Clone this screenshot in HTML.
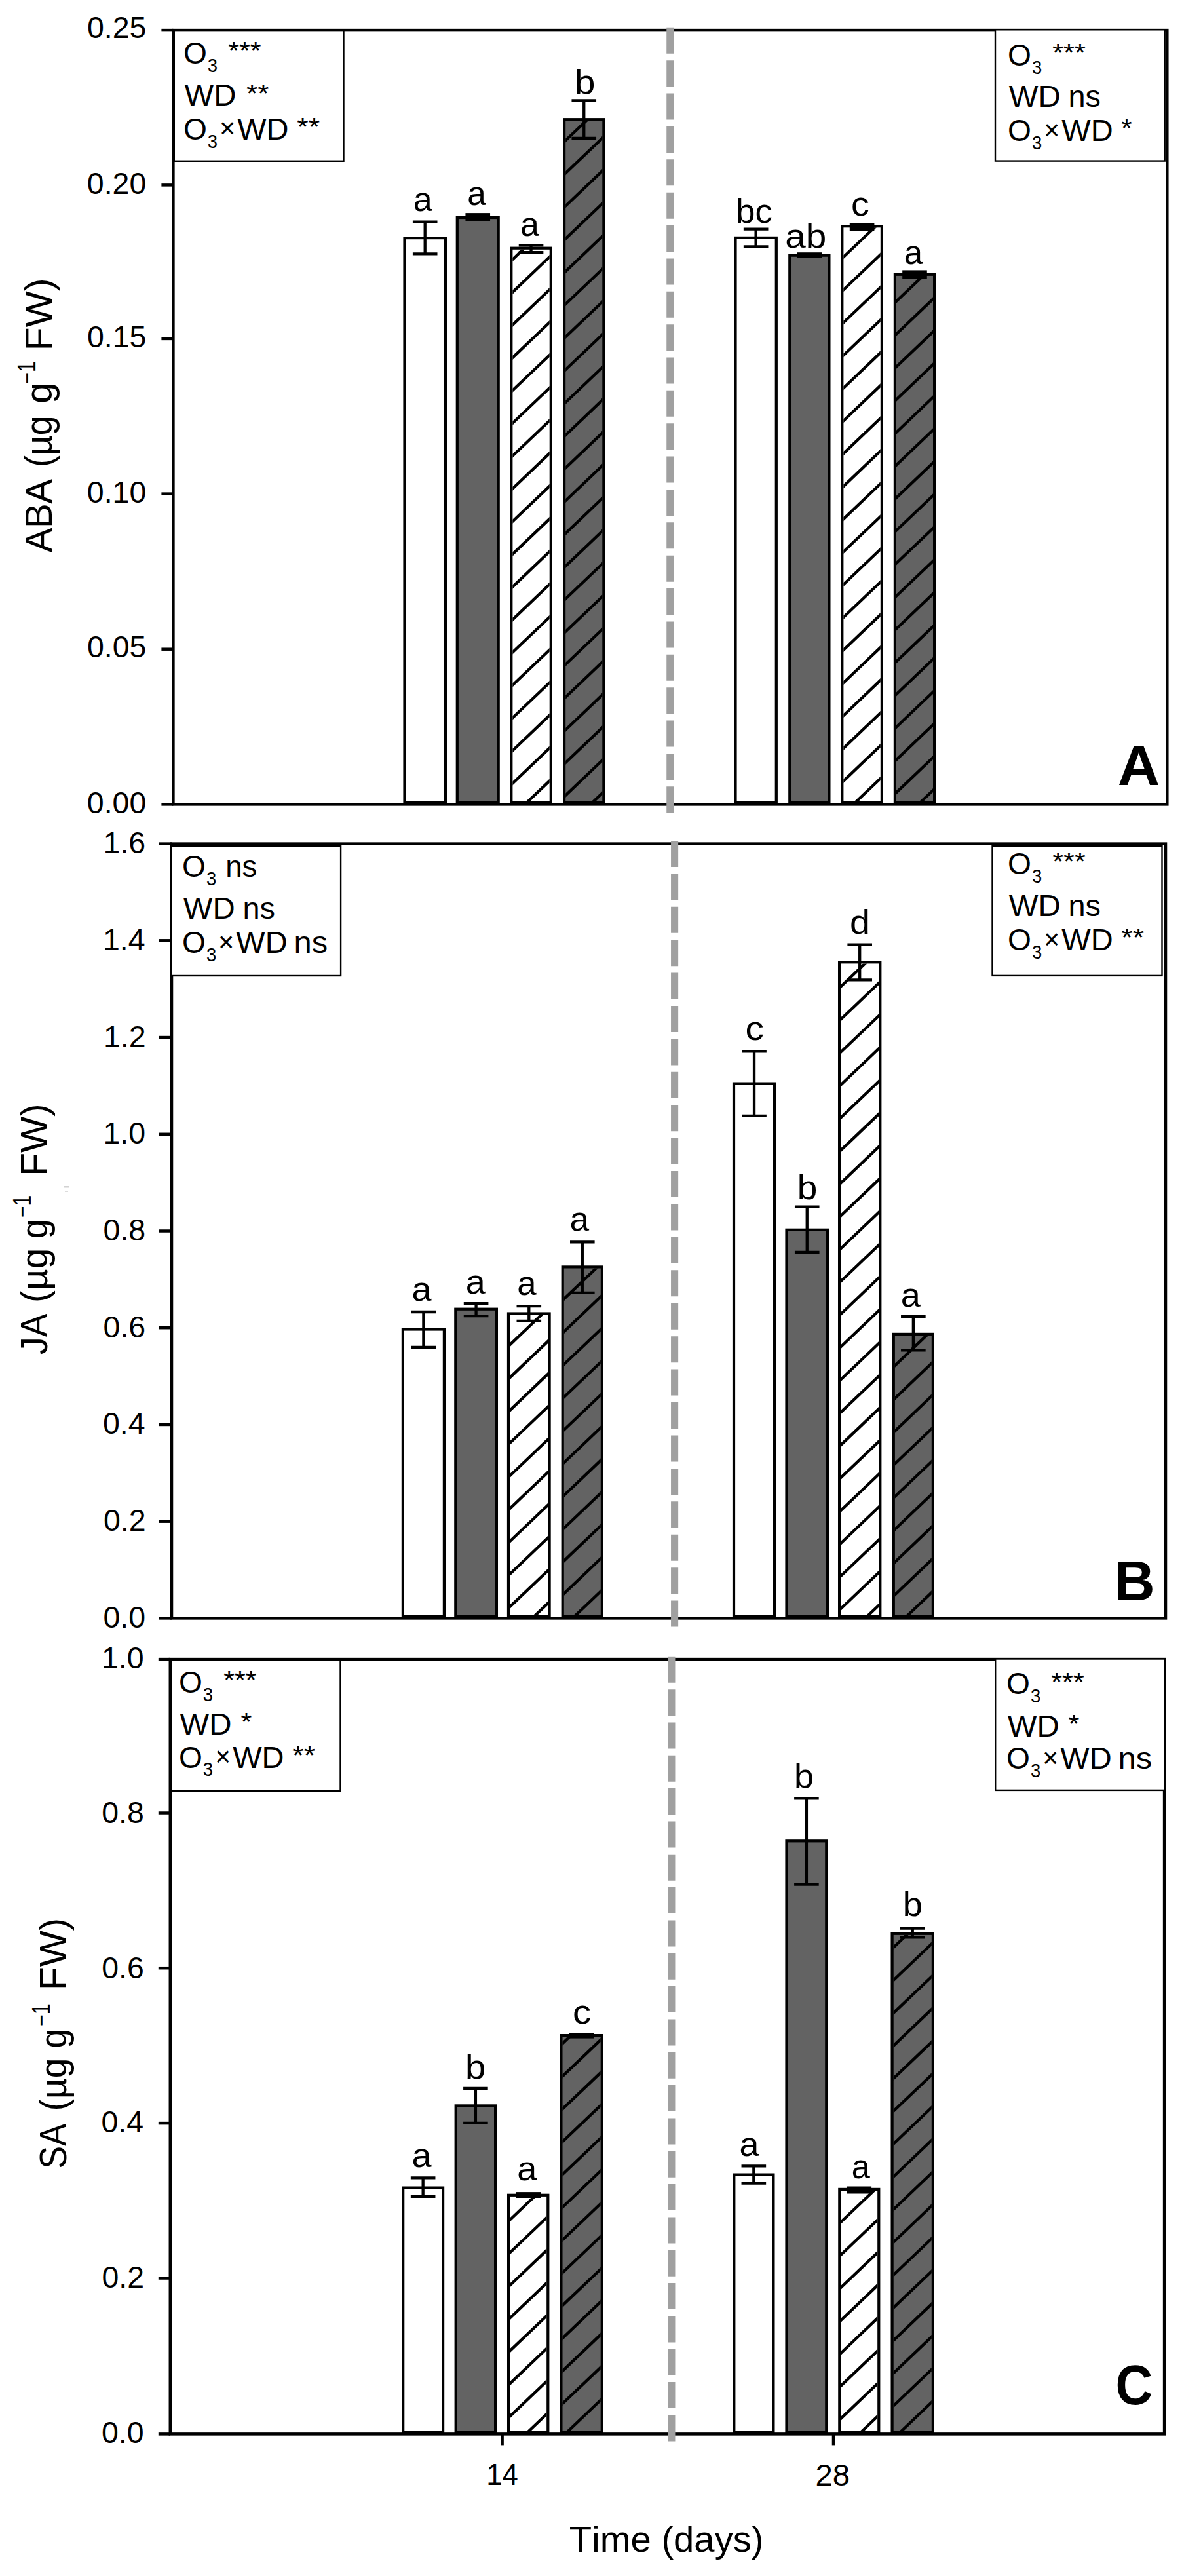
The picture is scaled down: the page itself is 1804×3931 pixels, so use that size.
<!DOCTYPE html>
<html lang="en"><head><meta charset="utf-8"><title>Phytohormones: ABA, JA, SA</title>
<style>html,body{margin:0;padding:0;background:#fff}svg{display:block}text{font-family:'Liberation Sans', Arial, sans-serif;fill:#000;font-kerning:none}.ax{stroke:#000;stroke-width:4.5;fill:none}.eb{stroke:#000;stroke-width:4.3;fill:none}.h{stroke:#000;stroke-width:4.4;fill:none}.lg{stroke:#000;stroke-width:2.4;fill:#fff}</style></head><body>
<svg width="1804" height="3931" viewBox="0 0 1804 3931">
<rect x="0" y="0" width="1804" height="3931" fill="#fff"/>
<g id="panel-A">
<rect class="lg" x="265.8" y="45.2" width="258.7" height="200.6"/>
<text><tspan font-size="46.5" textLength="35.89" lengthAdjust="spacingAndGlyphs" x="279.91" y="96.8">O</tspan><tspan font-size="28.8" textLength="15.25" lengthAdjust="spacingAndGlyphs" x="316.86" y="109.6">3</tspan><tspan> </tspan><tspan font-size="39" textLength="50.47" lengthAdjust="spacingAndGlyphs" x="348.2" y="91">***</tspan></text>
<text><tspan font-size="46.5" textLength="78.98" lengthAdjust="spacingAndGlyphs" x="281.59" y="161.3">WD</tspan><tspan> </tspan><tspan font-size="39" textLength="34.51" lengthAdjust="spacingAndGlyphs" x="375.99" y="155.5">**</tspan></text>
<text><tspan font-size="46.5" textLength="35.89" lengthAdjust="spacingAndGlyphs" x="279.91" y="212.8">O</tspan><tspan font-size="28.8" textLength="15.25" lengthAdjust="spacingAndGlyphs" x="316.86" y="225.6">3</tspan><tspan font-size="42" textLength="23.84" lengthAdjust="spacingAndGlyphs" x="335.27" y="210.4">×</tspan><tspan font-size="46.5" textLength="78.36" lengthAdjust="spacingAndGlyphs" x="362.19" y="212.8">WD</tspan><tspan> </tspan><tspan font-size="39" textLength="34.92" lengthAdjust="spacingAndGlyphs" x="453.18" y="207">**</tspan></text>
<rect x="617.5" y="363.1" width="62.4" height="861.8" fill="#fff" stroke="#000" stroke-width="4.2"/>
<rect x="697.8" y="332" width="62.9" height="892.9" fill="#636363" stroke="#000" stroke-width="4.2"/>
<rect x="780.3" y="378.7" width="60.5" height="846.2" fill="#fff" stroke="#000" stroke-width="4.2"/>
<clipPath id="c1"><rect x="782.4" y="380.8" width="56.3" height="842"/></clipPath>
<path class="h" clip-path="url(#c1)" d="M777.4 400.56L843.7 337.38M777.4 450.53L843.7 387.35M777.4 500.5L843.7 437.32M777.4 550.48L843.7 487.29M777.4 600.45L843.7 537.26M777.4 650.41L843.7 587.23M777.4 700.38L843.7 637.2M777.4 750.35L843.7 687.17M777.4 800.32L843.7 737.14M777.4 850.29L843.7 787.11M777.4 900.26L843.7 837.08M777.4 950.24L843.7 887.05M777.4 1000.21L843.7 937.02M777.4 1050.18L843.7 986.99M777.4 1100.14L843.7 1036.96M777.4 1150.12L843.7 1086.93M777.4 1200.09L843.7 1136.9M777.4 1250.06L843.7 1186.87M777.4 1300.03L843.7 1236.84"/>
<rect x="861.1" y="182.2" width="60.3" height="1042.7" fill="#636363" stroke="#000" stroke-width="4.2"/>
<clipPath id="c2"><rect x="863.2" y="184.3" width="56.1" height="1038.5"/></clipPath>
<path class="h" clip-path="url(#c2)" d="M858.2 169.09L924.3 106.1M858.2 219.06L924.3 156.07M858.2 269.03L924.3 206.04M858.2 319L924.3 256.01M858.2 368.98L924.3 305.98M858.2 418.94L924.3 355.95M858.2 468.91L924.3 405.92M858.2 518.88L924.3 455.89M858.2 568.85L924.3 505.86M858.2 618.82L924.3 555.83M858.2 668.79L924.3 605.8M858.2 718.76L924.3 655.77M858.2 768.74L924.3 705.74M858.2 818.71L924.3 755.71M858.2 868.68L924.3 805.68M858.2 918.64L924.3 855.65M858.2 968.61L924.3 905.62M858.2 1018.58L924.3 955.59M858.2 1068.56L924.3 1005.56M858.2 1118.53L924.3 1055.53M858.2 1168.5L924.3 1105.5M858.2 1218.47L924.3 1155.47M858.2 1268.43L924.3 1205.44"/>
<rect x="1122.5" y="362.9" width="62.3" height="862" fill="#fff" stroke="#000" stroke-width="4.2"/>
<rect x="1205.3" y="389.7" width="60.1" height="835.2" fill="#636363" stroke="#000" stroke-width="4.2"/>
<rect x="1285.3" y="345.2" width="60.6" height="879.7" fill="#fff" stroke="#000" stroke-width="4.2"/>
<clipPath id="c3"><rect x="1287.4" y="347.3" width="56.4" height="875.5"/></clipPath>
<path class="h" clip-path="url(#c3)" d="M1282.4 347L1348.8 283.72M1282.4 396.96L1348.8 333.69M1282.4 446.93L1348.8 383.66M1282.4 496.9L1348.8 433.63M1282.4 546.88L1348.8 483.6M1282.4 596.84L1348.8 533.57M1282.4 646.81L1348.8 583.54M1282.4 696.78L1348.8 633.51M1282.4 746.75L1348.8 683.48M1282.4 796.73L1348.8 733.45M1282.4 846.7L1348.8 783.42M1282.4 896.66L1348.8 833.39M1282.4 946.63L1348.8 883.36M1282.4 996.6L1348.8 933.33M1282.4 1046.58L1348.8 983.3M1282.4 1096.55L1348.8 1033.27M1282.4 1146.52L1348.8 1083.24M1282.4 1196.49L1348.8 1133.21M1282.4 1246.46L1348.8 1183.18M1282.4 1296.43L1348.8 1233.15"/>
<rect x="1365.9" y="418.8" width="60.2" height="806.1" fill="#636363" stroke="#000" stroke-width="4.2"/>
<clipPath id="c4"><rect x="1368" y="420.9" width="56" height="801.9"/></clipPath>
<path class="h" clip-path="url(#c4)" d="M1363 414.6L1429 351.7M1363 464.56L1429 401.67M1363 514.53L1429 451.64M1363 564.5L1429 501.61M1363 614.48L1429 551.58M1363 664.45L1429 601.55M1363 714.41L1429 651.52M1363 764.38L1429 701.49M1363 814.35L1429 751.46M1363 864.32L1429 801.43M1363 914.29L1429 851.4M1363 964.26L1429 901.37M1363 1014.24L1429 951.34M1363 1064.21L1429 1001.31M1363 1114.18L1429 1051.28M1363 1164.14L1429 1101.25M1363 1214.12L1429 1151.22M1363 1264.09L1429 1201.19"/>
<rect class="ax" x="264.4" y="46.1" width="1516.9" height="1181.3"/>
<line class="ax" x1="246.4" y1="1227.4" x2="264.4" y2="1227.4"/>
<text font-size="46.5" textLength="90.5" lengthAdjust="spacingAndGlyphs" x="132.81" y="1240.9">0.00</text>
<line class="ax" x1="246.4" y1="990.7" x2="264.4" y2="990.7"/>
<text font-size="46.5" textLength="90.5" lengthAdjust="spacingAndGlyphs" x="132.95" y="1002.7">0.05</text>
<line class="ax" x1="246.4" y1="753.6" x2="264.4" y2="753.6"/>
<text font-size="46.5" textLength="90.5" lengthAdjust="spacingAndGlyphs" x="132.81" y="767.1">0.10</text>
<line class="ax" x1="246.4" y1="516.9" x2="264.4" y2="516.9"/>
<text font-size="46.5" textLength="90.5" lengthAdjust="spacingAndGlyphs" x="132.95" y="530.4">0.15</text>
<line class="ax" x1="246.4" y1="282.4" x2="264.4" y2="282.4"/>
<text font-size="46.5" textLength="90.5" lengthAdjust="spacingAndGlyphs" x="132.81" y="295.9">0.20</text>
<line class="ax" x1="246.4" y1="46.1" x2="264.4" y2="46.1"/>
<text font-size="46.5" textLength="90.5" lengthAdjust="spacingAndGlyphs" x="132.95" y="58.4">0.25</text>
<path class="eb" d="M629.9 338.7H667.5M629.9 387.3H667.5M648.7 338.7V387.3"/>
<text font-size="52" textLength="29.02" lengthAdjust="spacingAndGlyphs" x="630.78" y="321.7">a</text>
<rect x="710.45" y="325.1" width="37.6" height="12.5" fill="#000"/>
<text font-size="52" textLength="28.58" lengthAdjust="spacingAndGlyphs" x="713.32" y="313.2">a</text>
<path class="eb" d="M791.75 374.4H829.35M791.75 385.2H829.35M810.55 374.4V385.2"/>
<text font-size="52" textLength="28.91" lengthAdjust="spacingAndGlyphs" x="793.99" y="360.2">a</text>
<path class="eb" d="M872.45 153.3H910.05M872.45 210.9H910.05M891.25 153.3V210.9"/>
<text font-size="52" textLength="31.41" lengthAdjust="spacingAndGlyphs" x="876.96" y="143.3">b</text>
<path class="eb" d="M1134.85 349.7H1172.45M1134.85 376.3H1172.45M1153.65 349.7V376.3"/>
<text font-size="52" textLength="55.91" lengthAdjust="spacingAndGlyphs" x="1123.09" y="339.8">bc</text>
<rect x="1216.55" y="385.2" width="37.6" height="8.4" fill="#000"/>
<text font-size="52" textLength="63.09" lengthAdjust="spacingAndGlyphs" x="1198.19" y="378">ab</text>
<rect x="1296.8" y="340.9" width="37.6" height="11.1" fill="#000"/>
<text font-size="52" textLength="27.83" lengthAdjust="spacingAndGlyphs" x="1299.04" y="328.8">c</text>
<rect x="1377.2" y="412.4" width="37.6" height="12.9" fill="#000"/>
<text font-size="52" textLength="28.37" lengthAdjust="spacingAndGlyphs" x="1379.73" y="402.5">a</text>
<rect class="lg" x="1519" y="45.3" width="258.7" height="200.3"/>
<text><tspan font-size="46.5" textLength="35.89" lengthAdjust="spacingAndGlyphs" x="1538.01" y="100">O</tspan><tspan font-size="28.8" textLength="15.25" lengthAdjust="spacingAndGlyphs" x="1574.96" y="112.8">3</tspan><tspan> </tspan><tspan font-size="39" textLength="50.47" lengthAdjust="spacingAndGlyphs" x="1606.3" y="94.2">***</tspan></text>
<text><tspan font-size="46.5" textLength="78.98" lengthAdjust="spacingAndGlyphs" x="1539.69" y="162.9">WD</tspan><tspan> </tspan><tspan font-size="46.5" textLength="49.51" lengthAdjust="spacingAndGlyphs" x="1630.49" y="162.9">ns</tspan></text>
<text><tspan font-size="46.5" textLength="35.89" lengthAdjust="spacingAndGlyphs" x="1538.01" y="215.2">O</tspan><tspan font-size="28.8" textLength="15.25" lengthAdjust="spacingAndGlyphs" x="1574.96" y="228">3</tspan><tspan font-size="42" textLength="23.84" lengthAdjust="spacingAndGlyphs" x="1593.37" y="212.8">×</tspan><tspan font-size="46.5" textLength="78.36" lengthAdjust="spacingAndGlyphs" x="1620.29" y="215.2">WD</tspan><tspan> </tspan><tspan font-size="39" textLength="16.44" lengthAdjust="spacingAndGlyphs" x="1711.32" y="209.4">*</tspan></text>
<text font-size="86" textLength="64.48" lengthAdjust="spacingAndGlyphs" font-weight="bold" x="1705.68" y="1197.8">A</text>
<text transform="rotate(-90)"><tspan font-size="57" textLength="112.02" lengthAdjust="spacingAndGlyphs" x="-843.11" y="78.7">ABA</tspan><tspan> </tspan><tspan font-size="57" textLength="78.47" lengthAdjust="spacingAndGlyphs" x="-713.02" y="78.7">(µg</tspan><tspan> </tspan><tspan font-size="57" textLength="32.28" lengthAdjust="spacingAndGlyphs" x="-615.84" y="78.7">g</tspan><tspan font-size="38" textLength="34.14" lengthAdjust="spacingAndGlyphs" x="-585.48" y="53.7">−1</tspan><tspan> </tspan><tspan font-size="57" textLength="110.97" lengthAdjust="spacingAndGlyphs" x="-535.32" y="78.7">FW)</tspan></text>
</g>
<g id="panel-B">
<rect x="614.9" y="2028.5" width="63" height="438.4" fill="#fff" stroke="#000" stroke-width="4.2"/>
<rect x="695.3" y="1997.7" width="62.6" height="469.2" fill="#636363" stroke="#000" stroke-width="4.2"/>
<rect x="776" y="2004.5" width="62.6" height="462.4" fill="#fff" stroke="#000" stroke-width="4.2"/>
<clipPath id="c5"><rect x="778.1" y="2006.6" width="58.4" height="458.2"/></clipPath>
<path class="h" clip-path="url(#c5)" d="M773.1 2007.1L841.5 1941.91M773.1 2057.07L841.5 1991.88M773.1 2107.03L841.5 2041.85M773.1 2157.01L841.5 2091.82M773.1 2206.97L841.5 2141.79M773.1 2256.95L841.5 2191.76M773.1 2306.91L841.5 2241.73M773.1 2356.89L841.5 2291.7M773.1 2406.86L841.5 2341.67M773.1 2456.83L841.5 2391.64M773.1 2506.8L841.5 2441.61"/>
<rect x="858.7" y="1933.4" width="60.2" height="533.5" fill="#636363" stroke="#000" stroke-width="4.2"/>
<clipPath id="c6"><rect x="860.8" y="1935.5" width="56" height="529.3"/></clipPath>
<path class="h" clip-path="url(#c6)" d="M855.8 1936.92L921.8 1874.03M855.8 1986.89L921.8 1924M855.8 2036.87L921.8 1973.97M855.8 2086.83L921.8 2023.94M855.8 2136.8L921.8 2073.91M855.8 2186.77L921.8 2123.88M855.8 2236.74L921.8 2173.85M855.8 2286.71L921.8 2223.82M855.8 2336.68L921.8 2273.79M855.8 2386.65L921.8 2323.76M855.8 2436.62L921.8 2373.73M855.8 2486.59L921.8 2423.7M855.8 2536.56L921.8 2473.67"/>
<rect x="1120" y="1653.6" width="62.1" height="813.3" fill="#fff" stroke="#000" stroke-width="4.2"/>
<rect x="1200.5" y="1876.8" width="62.5" height="590.1" fill="#636363" stroke="#000" stroke-width="4.2"/>
<rect x="1281.1" y="1468.3" width="62.2" height="998.6" fill="#fff" stroke="#000" stroke-width="4.2"/>
<clipPath id="c7"><rect x="1283.2" y="1470.4" width="58" height="994.4"/></clipPath>
<path class="h" clip-path="url(#c7)" d="M1278.2 1460.39L1346.2 1395.59M1278.2 1510.37L1346.2 1445.56M1278.2 1560.34L1346.2 1495.53M1278.2 1610.31L1346.2 1545.5M1278.2 1660.28L1346.2 1595.47M1278.2 1710.25L1346.2 1645.44M1278.2 1760.21L1346.2 1695.41M1278.2 1810.18L1346.2 1745.38M1278.2 1860.15L1346.2 1795.35M1278.2 1910.12L1346.2 1845.32M1278.2 1960.1L1346.2 1895.29M1278.2 2010.07L1346.2 1945.26M1278.2 2060.03L1346.2 1995.23M1278.2 2110L1346.2 2045.2M1278.2 2159.97L1346.2 2095.17M1278.2 2209.94L1346.2 2145.14M1278.2 2259.91L1346.2 2195.11M1278.2 2309.88L1346.2 2245.08M1278.2 2359.86L1346.2 2295.05M1278.2 2409.82L1346.2 2345.02M1278.2 2459.79L1346.2 2394.99M1278.2 2509.76L1346.2 2444.96"/>
<rect x="1363.8" y="2035.9" width="60.1" height="431" fill="#636363" stroke="#000" stroke-width="4.2"/>
<clipPath id="c8"><rect x="1365.9" y="2038" width="55.9" height="426.8"/></clipPath>
<path class="h" clip-path="url(#c8)" d="M1360.9 2038.6L1426.8 1975.79M1360.9 2088.57L1426.8 2025.76M1360.9 2138.53L1426.8 2075.73M1360.9 2188.51L1426.8 2125.7M1360.9 2238.47L1426.8 2175.67M1360.9 2288.45L1426.8 2225.64M1360.9 2338.41L1426.8 2275.61M1360.9 2388.39L1426.8 2325.58M1360.9 2438.36L1426.8 2375.55M1360.9 2488.33L1426.8 2425.52M1360.9 2538.3L1426.8 2475.49"/>
<rect class="ax" x="262" y="1287.6" width="1517" height="1181.8"/>
<line class="ax" x1="242.3" y1="2469.4" x2="262" y2="2469.4"/>
<text font-size="46.5" textLength="64.64" lengthAdjust="spacingAndGlyphs" x="157.38" y="2483.9">0.0</text>
<line class="ax" x1="242.3" y1="2321.68" x2="262" y2="2321.68"/>
<text font-size="46.5" textLength="64.64" lengthAdjust="spacingAndGlyphs" x="157.9" y="2336.18">0.2</text>
<line class="ax" x1="242.3" y1="2173.95" x2="262" y2="2173.95"/>
<text font-size="46.5" textLength="64.64" lengthAdjust="spacingAndGlyphs" x="156.92" y="2188.45">0.4</text>
<line class="ax" x1="242.3" y1="2026.22" x2="262" y2="2026.22"/>
<text font-size="46.5" textLength="64.64" lengthAdjust="spacingAndGlyphs" x="157.6" y="2040.72">0.6</text>
<line class="ax" x1="242.3" y1="1878.5" x2="262" y2="1878.5"/>
<text font-size="46.5" textLength="64.64" lengthAdjust="spacingAndGlyphs" x="157.58" y="1893">0.8</text>
<line class="ax" x1="242.3" y1="1730.78" x2="262" y2="1730.78"/>
<text font-size="46.5" textLength="64.64" lengthAdjust="spacingAndGlyphs" x="157.38" y="1745.28">1.0</text>
<line class="ax" x1="242.3" y1="1583.05" x2="262" y2="1583.05"/>
<text font-size="46.5" textLength="64.64" lengthAdjust="spacingAndGlyphs" x="157.9" y="1597.55">1.2</text>
<line class="ax" x1="242.3" y1="1435.32" x2="262" y2="1435.32"/>
<text font-size="46.5" textLength="64.64" lengthAdjust="spacingAndGlyphs" x="156.92" y="1449.82">1.4</text>
<line class="ax" x1="242.3" y1="1287.6" x2="262" y2="1287.6"/>
<text font-size="46.5" textLength="64.64" lengthAdjust="spacingAndGlyphs" x="157.6" y="1302.1">1.6</text>
<path class="eb" d="M627.6 2002H665.2M627.6 2055.8H665.2M646.4 2002V2055.8"/>
<text font-size="52" textLength="29.99" lengthAdjust="spacingAndGlyphs" x="628.51" y="1984.9">a</text>
<path class="eb" d="M707.8 1989.1H745.4M707.8 2008.1H745.4M726.6 1989.1V2008.1"/>
<text font-size="52" textLength="29.99" lengthAdjust="spacingAndGlyphs" x="710.71" y="1974.1">a</text>
<path class="eb" d="M788.5 1993.1H826.1M788.5 2015.9H826.1M807.3 1993.1V2015.9"/>
<text font-size="52" textLength="29.34" lengthAdjust="spacingAndGlyphs" x="789.26" y="1975.8">a</text>
<path class="eb" d="M870 1895.4H907.6M870 1972.8H907.6M888.8 1895.4V1972.8"/>
<text font-size="52" textLength="29.67" lengthAdjust="spacingAndGlyphs" x="869.43" y="1878.3">a</text>
<path class="eb" d="M1132.25 1604.4H1169.85M1132.25 1702.8H1169.85M1151.05 1604.4V1702.8"/>
<text font-size="52" textLength="28.53" lengthAdjust="spacingAndGlyphs" x="1137.58" y="1587.1">c</text>
<path class="eb" d="M1212.95 1841.6H1250.55M1212.95 1911H1250.55M1231.75 1841.6V1911"/>
<text font-size="52" textLength="30.55" lengthAdjust="spacingAndGlyphs" x="1216.86" y="1829.5">b</text>
<path class="eb" d="M1293.4 1441.6H1331M1293.4 1495.4H1331M1312.2 1441.6V1495.4"/>
<text font-size="52" textLength="30.92" lengthAdjust="spacingAndGlyphs" x="1296.97" y="1424.5">d</text>
<path class="eb" d="M1375.05 2008.9H1412.65M1375.05 2060.3H1412.65M1393.85 2008.9V2060.3"/>
<text font-size="52" textLength="30.1" lengthAdjust="spacingAndGlyphs" x="1374.8" y="1994.4">a</text>
<rect class="lg" x="261.4" y="1290.9" width="258.7" height="198.1"/>
<text><tspan font-size="46.5" textLength="35.89" lengthAdjust="spacingAndGlyphs" x="278.01" y="1338.2">O</tspan><tspan font-size="28.8" textLength="15.25" lengthAdjust="spacingAndGlyphs" x="314.96" y="1351">3</tspan><tspan> </tspan><tspan font-size="46.5" textLength="48.29" lengthAdjust="spacingAndGlyphs" x="344.16" y="1338.2">ns</tspan></text>
<text><tspan font-size="46.5" textLength="78.98" lengthAdjust="spacingAndGlyphs" x="279.69" y="1401.8">WD</tspan><tspan> </tspan><tspan font-size="46.5" textLength="49.51" lengthAdjust="spacingAndGlyphs" x="370.49" y="1401.8">ns</tspan></text>
<text><tspan font-size="46.5" textLength="35.89" lengthAdjust="spacingAndGlyphs" x="278.01" y="1454.4">O</tspan><tspan font-size="28.8" textLength="15.25" lengthAdjust="spacingAndGlyphs" x="314.96" y="1467.2">3</tspan><tspan font-size="42" textLength="23.84" lengthAdjust="spacingAndGlyphs" x="333.37" y="1452">×</tspan><tspan font-size="46.5" textLength="78.36" lengthAdjust="spacingAndGlyphs" x="360.29" y="1454.4">WD</tspan><tspan> </tspan><tspan font-size="46.5" textLength="51.72" lengthAdjust="spacingAndGlyphs" x="448.55" y="1454.4">ns</tspan></text>
<rect class="lg" x="1514.5" y="1291.1" width="259" height="197.8"/>
<text><tspan font-size="46.5" textLength="35.89" lengthAdjust="spacingAndGlyphs" x="1538.01" y="1334.1">O</tspan><tspan font-size="28.8" textLength="15.25" lengthAdjust="spacingAndGlyphs" x="1574.96" y="1346.9">3</tspan><tspan> </tspan><tspan font-size="39" textLength="50.47" lengthAdjust="spacingAndGlyphs" x="1606.3" y="1328.3">***</tspan></text>
<text><tspan font-size="46.5" textLength="78.98" lengthAdjust="spacingAndGlyphs" x="1539.69" y="1397.7">WD</tspan><tspan> </tspan><tspan font-size="46.5" textLength="49.51" lengthAdjust="spacingAndGlyphs" x="1630.49" y="1397.7">ns</tspan></text>
<text><tspan font-size="46.5" textLength="35.89" lengthAdjust="spacingAndGlyphs" x="1538.01" y="1450">O</tspan><tspan font-size="28.8" textLength="15.25" lengthAdjust="spacingAndGlyphs" x="1574.96" y="1462.8">3</tspan><tspan font-size="42" textLength="23.84" lengthAdjust="spacingAndGlyphs" x="1593.37" y="1447.6">×</tspan><tspan font-size="46.5" textLength="78.36" lengthAdjust="spacingAndGlyphs" x="1620.29" y="1450">WD</tspan><tspan> </tspan><tspan font-size="39" textLength="34.92" lengthAdjust="spacingAndGlyphs" x="1711.28" y="1444.2">**</tspan></text>
<text font-size="86" textLength="62.4" lengthAdjust="spacingAndGlyphs" font-weight="bold" x="1700.22" y="2441.9">B</text>
<text transform="rotate(-90)"><tspan font-size="57" textLength="62.85" lengthAdjust="spacingAndGlyphs" x="-2067.24" y="71.7">JA</tspan><tspan> </tspan><tspan font-size="57" textLength="83.07" lengthAdjust="spacingAndGlyphs" x="-1987.92" y="71.7">(µg</tspan><tspan> </tspan><tspan font-size="57" textLength="29.93" lengthAdjust="spacingAndGlyphs" x="-1890.36" y="71.7">g</tspan><tspan font-size="38" textLength="34.14" lengthAdjust="spacingAndGlyphs" x="-1858.08" y="46.7">−1</tspan><tspan> </tspan><tspan font-size="57" textLength="110.43" lengthAdjust="spacingAndGlyphs" x="-1794.8" y="71.7">FW)</tspan></text>
</g>
<g id="panel-C">
<rect class="lg" x="260.8" y="2532.9" width="258.7" height="200.3"/>
<text><tspan font-size="46.5" textLength="35.89" lengthAdjust="spacingAndGlyphs" x="272.91" y="2583">O</tspan><tspan font-size="28.8" textLength="15.25" lengthAdjust="spacingAndGlyphs" x="309.86" y="2595.8">3</tspan><tspan> </tspan><tspan font-size="39" textLength="50.47" lengthAdjust="spacingAndGlyphs" x="341.2" y="2577.2">***</tspan></text>
<text><tspan font-size="46.5" textLength="78.98" lengthAdjust="spacingAndGlyphs" x="274.59" y="2647.2">WD</tspan><tspan> </tspan><tspan font-size="39" textLength="16.88" lengthAdjust="spacingAndGlyphs" x="367.4" y="2641.4">*</tspan></text>
<text><tspan font-size="46.5" textLength="35.89" lengthAdjust="spacingAndGlyphs" x="272.91" y="2697.5">O</tspan><tspan font-size="28.8" textLength="15.25" lengthAdjust="spacingAndGlyphs" x="309.86" y="2710.3">3</tspan><tspan font-size="42" textLength="23.84" lengthAdjust="spacingAndGlyphs" x="328.27" y="2695.1">×</tspan><tspan font-size="46.5" textLength="78.36" lengthAdjust="spacingAndGlyphs" x="355.19" y="2697.5">WD</tspan><tspan> </tspan><tspan font-size="39" textLength="34.92" lengthAdjust="spacingAndGlyphs" x="446.18" y="2691.7">**</tspan></text>
<rect x="615.2" y="3338.6" width="60.9" height="373.3" fill="#fff" stroke="#000" stroke-width="4.2"/>
<rect x="695.7" y="3213.4" width="60.4" height="498.5" fill="#636363" stroke="#000" stroke-width="4.2"/>
<rect x="776.1" y="3349.8" width="60.2" height="362.1" fill="#fff" stroke="#000" stroke-width="4.2"/>
<clipPath id="c9"><rect x="778.2" y="3351.9" width="56" height="357.9"/></clipPath>
<path class="h" clip-path="url(#c9)" d="M773.2 3342.38L839.2 3279.48M773.2 3392.34L839.2 3329.45M773.2 3442.32L839.2 3379.42M773.2 3492.28L839.2 3429.39M773.2 3542.26L839.2 3479.36M773.2 3592.22L839.2 3529.33M773.2 3642.2L839.2 3579.3M773.2 3692.16L839.2 3629.27M773.2 3742.13L839.2 3679.24"/>
<rect x="856.4" y="3106.1" width="62.4" height="605.8" fill="#636363" stroke="#000" stroke-width="4.2"/>
<clipPath id="c10"><rect x="858.5" y="3108.2" width="58.2" height="601.6"/></clipPath>
<path class="h" clip-path="url(#c10)" d="M853.5 3123.19L921.7 3058.2M853.5 3173.16L921.7 3108.17M853.5 3223.13L921.7 3158.14M853.5 3273.11L921.7 3208.11M853.5 3323.07L921.7 3258.08M853.5 3373.04L921.7 3308.05M853.5 3423.01L921.7 3358.02M853.5 3472.98L921.7 3407.99M853.5 3522.95L921.7 3457.96M853.5 3572.92L921.7 3507.93M853.5 3622.89L921.7 3557.9M853.5 3672.86L921.7 3607.87M853.5 3722.83L921.7 3657.84M853.5 3772.8L921.7 3707.81"/>
<rect x="1120.3" y="3318.6" width="60.1" height="393.3" fill="#fff" stroke="#000" stroke-width="4.2"/>
<rect x="1200.5" y="2809.3" width="60.8" height="902.6" fill="#636363" stroke="#000" stroke-width="4.2"/>
<rect x="1281.3" y="3340.9" width="60" height="371" fill="#fff" stroke="#000" stroke-width="4.2"/>
<clipPath id="c11"><rect x="1283.4" y="3343" width="55.8" height="366.8"/></clipPath>
<path class="h" clip-path="url(#c11)" d="M1278.4 3345.7L1344.2 3282.99M1278.4 3395.66L1344.2 3332.96M1278.4 3445.63L1344.2 3382.93M1278.4 3495.61L1344.2 3432.9M1278.4 3545.57L1344.2 3482.87M1278.4 3595.55L1344.2 3532.84M1278.4 3645.51L1344.2 3582.81M1278.4 3695.49L1344.2 3632.78M1278.4 3745.45L1344.2 3682.75"/>
<rect x="1361.6" y="2950.8" width="62.3" height="761.1" fill="#636363" stroke="#000" stroke-width="4.2"/>
<clipPath id="c12"><rect x="1363.7" y="2952.9" width="58.1" height="756.9"/></clipPath>
<path class="h" clip-path="url(#c12)" d="M1358.7 2976.57L1426.8 2911.68M1358.7 3026.54L1426.8 2961.65M1358.7 3076.51L1426.8 3011.62M1358.7 3126.48L1426.8 3061.59M1358.7 3176.45L1426.8 3111.56M1358.7 3226.42L1426.8 3161.53M1358.7 3276.39L1426.8 3211.5M1358.7 3326.36L1426.8 3261.47M1358.7 3376.33L1426.8 3311.44M1358.7 3426.3L1426.8 3361.41M1358.7 3476.27L1426.8 3411.38M1358.7 3526.24L1426.8 3461.35M1358.7 3576.21L1426.8 3511.32M1358.7 3626.18L1426.8 3561.29M1358.7 3676.15L1426.8 3611.26M1358.7 3726.12L1426.8 3661.23M1358.7 3776.09L1426.8 3711.2"/>
<rect class="ax" x="259.8" y="2532.1" width="1517.3" height="1182.3"/>
<line class="ax" x1="241.8" y1="3714.4" x2="259.8" y2="3714.4"/>
<text font-size="46.5" textLength="64.64" lengthAdjust="spacingAndGlyphs" x="154.98" y="3727.9">0.0</text>
<line class="ax" x1="241.8" y1="3476.5" x2="259.8" y2="3476.5"/>
<text font-size="46.5" textLength="64.64" lengthAdjust="spacingAndGlyphs" x="155.5" y="3490.5">0.2</text>
<line class="ax" x1="241.8" y1="3240.1" x2="259.8" y2="3240.1"/>
<text font-size="46.5" textLength="64.64" lengthAdjust="spacingAndGlyphs" x="154.52" y="3253.5">0.4</text>
<line class="ax" x1="241.8" y1="3003.2" x2="259.8" y2="3003.2"/>
<text font-size="46.5" textLength="64.64" lengthAdjust="spacingAndGlyphs" x="155.2" y="3018.7">0.6</text>
<line class="ax" x1="241.8" y1="2766.5" x2="259.8" y2="2766.5"/>
<text font-size="46.5" textLength="64.64" lengthAdjust="spacingAndGlyphs" x="155.18" y="2781.7">0.8</text>
<line class="ax" x1="241.8" y1="2532.1" x2="259.8" y2="2532.1"/>
<text font-size="46.5" textLength="64.64" lengthAdjust="spacingAndGlyphs" x="154.98" y="2545.6">1.0</text>
<path class="eb" d="M626.85 3323.4H664.45M626.85 3351.8H664.45M645.65 3323.4V3351.8"/>
<text font-size="52" textLength="29.99" lengthAdjust="spacingAndGlyphs" x="628.51" y="3306.6">a</text>
<path class="eb" d="M707.1 3187H744.7M707.1 3239.8H744.7M725.9 3187V3239.8"/>
<text font-size="52" textLength="31.29" lengthAdjust="spacingAndGlyphs" x="710.07" y="3171.9">b</text>
<rect x="787.4" y="3345.1" width="37.6" height="8.9" fill="#000"/>
<text font-size="52" textLength="30.1" lengthAdjust="spacingAndGlyphs" x="789.2" y="3326.6">a</text>
<rect x="868.8" y="3102.2" width="37.6" height="8.4" fill="#000"/>
<text font-size="52" textLength="28.41" lengthAdjust="spacingAndGlyphs" x="873.99" y="3087.5">c</text>
<path class="eb" d="M1131.55 3305.3H1169.15M1131.55 3331.7H1169.15M1150.35 3305.3V3331.7"/>
<text font-size="52" textLength="29.99" lengthAdjust="spacingAndGlyphs" x="1128.51" y="3289.6">a</text>
<path class="eb" d="M1212.1 2744.3H1249.7M1212.1 2875.5H1249.7M1230.9 2744.3V2875.5"/>
<text font-size="52" textLength="30.05" lengthAdjust="spacingAndGlyphs" x="1211.92" y="2728.2">b</text>
<rect x="1292.5" y="3336.5" width="37.6" height="11" fill="#000"/>
<text font-size="52" textLength="28.04" lengthAdjust="spacingAndGlyphs" x="1299.76" y="3324.3">a</text>
<path class="eb" d="M1373.95 2942.6H1411.55M1373.95 2956.4H1411.55M1392.75 2942.6V2956.4"/>
<text font-size="52" textLength="30.18" lengthAdjust="spacingAndGlyphs" x="1377.7" y="2924.1">b</text>
<rect class="lg" x="1519.2" y="2531.5" width="258.9" height="200.4"/>
<text><tspan font-size="46.5" textLength="35.89" lengthAdjust="spacingAndGlyphs" x="1536.01" y="2585.3">O</tspan><tspan font-size="28.8" textLength="15.25" lengthAdjust="spacingAndGlyphs" x="1572.96" y="2598.1">3</tspan><tspan> </tspan><tspan font-size="39" textLength="50.47" lengthAdjust="spacingAndGlyphs" x="1604.3" y="2579.5">***</tspan></text>
<text><tspan font-size="46.5" textLength="78.98" lengthAdjust="spacingAndGlyphs" x="1537.69" y="2649.5">WD</tspan><tspan> </tspan><tspan font-size="39" textLength="16.88" lengthAdjust="spacingAndGlyphs" x="1630.5" y="2643.7">*</tspan></text>
<text><tspan font-size="46.5" textLength="35.89" lengthAdjust="spacingAndGlyphs" x="1536.01" y="2699.2">O</tspan><tspan font-size="28.8" textLength="15.25" lengthAdjust="spacingAndGlyphs" x="1572.96" y="2712">3</tspan><tspan font-size="42" textLength="23.84" lengthAdjust="spacingAndGlyphs" x="1591.37" y="2696.8">×</tspan><tspan font-size="46.5" textLength="78.36" lengthAdjust="spacingAndGlyphs" x="1618.29" y="2699.2">WD</tspan><tspan> </tspan><tspan font-size="46.5" textLength="51.72" lengthAdjust="spacingAndGlyphs" x="1706.55" y="2699.2">ns</tspan></text>
<text font-size="86" textLength="56.77" lengthAdjust="spacingAndGlyphs" font-weight="bold" x="1702.48" y="3668.6">C</text>
<text transform="rotate(-90)"><tspan font-size="57" textLength="69.05" lengthAdjust="spacingAndGlyphs" x="-3309.45" y="101.1">SA</tspan><tspan> </tspan><tspan font-size="57" textLength="80.99" lengthAdjust="spacingAndGlyphs" x="-3221.53" y="101.1">(µg</tspan><tspan> </tspan><tspan font-size="57" textLength="29.93" lengthAdjust="spacingAndGlyphs" x="-3125.86" y="101.1">g</tspan><tspan font-size="38" textLength="34.69" lengthAdjust="spacingAndGlyphs" x="-3092.1" y="76.1">−1</tspan><tspan> </tspan><tspan font-size="57" textLength="110.43" lengthAdjust="spacingAndGlyphs" x="-3037.1" y="101.1">FW)</tspan></text>
</g>
<line class="ax" x1="766.6" y1="3714.4" x2="766.6" y2="3731.4"/>
<text font-size="46.5" textLength="48.61" lengthAdjust="spacingAndGlyphs" x="742.17" y="3792">14</text>
<line class="ax" x1="1272" y1="3714.4" x2="1272" y2="3731.4"/>
<text font-size="46.5" textLength="52.75" lengthAdjust="spacingAndGlyphs" x="1244.42" y="3792.5">28</text>
<text font-size="56" textLength="296.75" lengthAdjust="spacingAndGlyphs" x="868.84" y="3894.2">Time (days)</text>
<line x1="1022.8" y1="41.8" x2="1022.8" y2="1240.5" stroke="#a0a0a0" stroke-width="11.1" stroke-dasharray="40 10.37"/>
<line x1="1029.6" y1="1282.9" x2="1029.6" y2="2482.7" stroke="#a0a0a0" stroke-width="11.1" stroke-dasharray="40 10.42"/>
<line x1="1024.9" y1="2527.8" x2="1024.9" y2="3727.6" stroke="#a0a0a0" stroke-width="11.1" stroke-dasharray="40 10.33"/>
<rect x="97" y="1810" width="8" height="2.5" fill="#d2d2d2"/><rect x="99" y="1817" width="5" height="2" fill="#dcdcdc"/>
</svg></body></html>
